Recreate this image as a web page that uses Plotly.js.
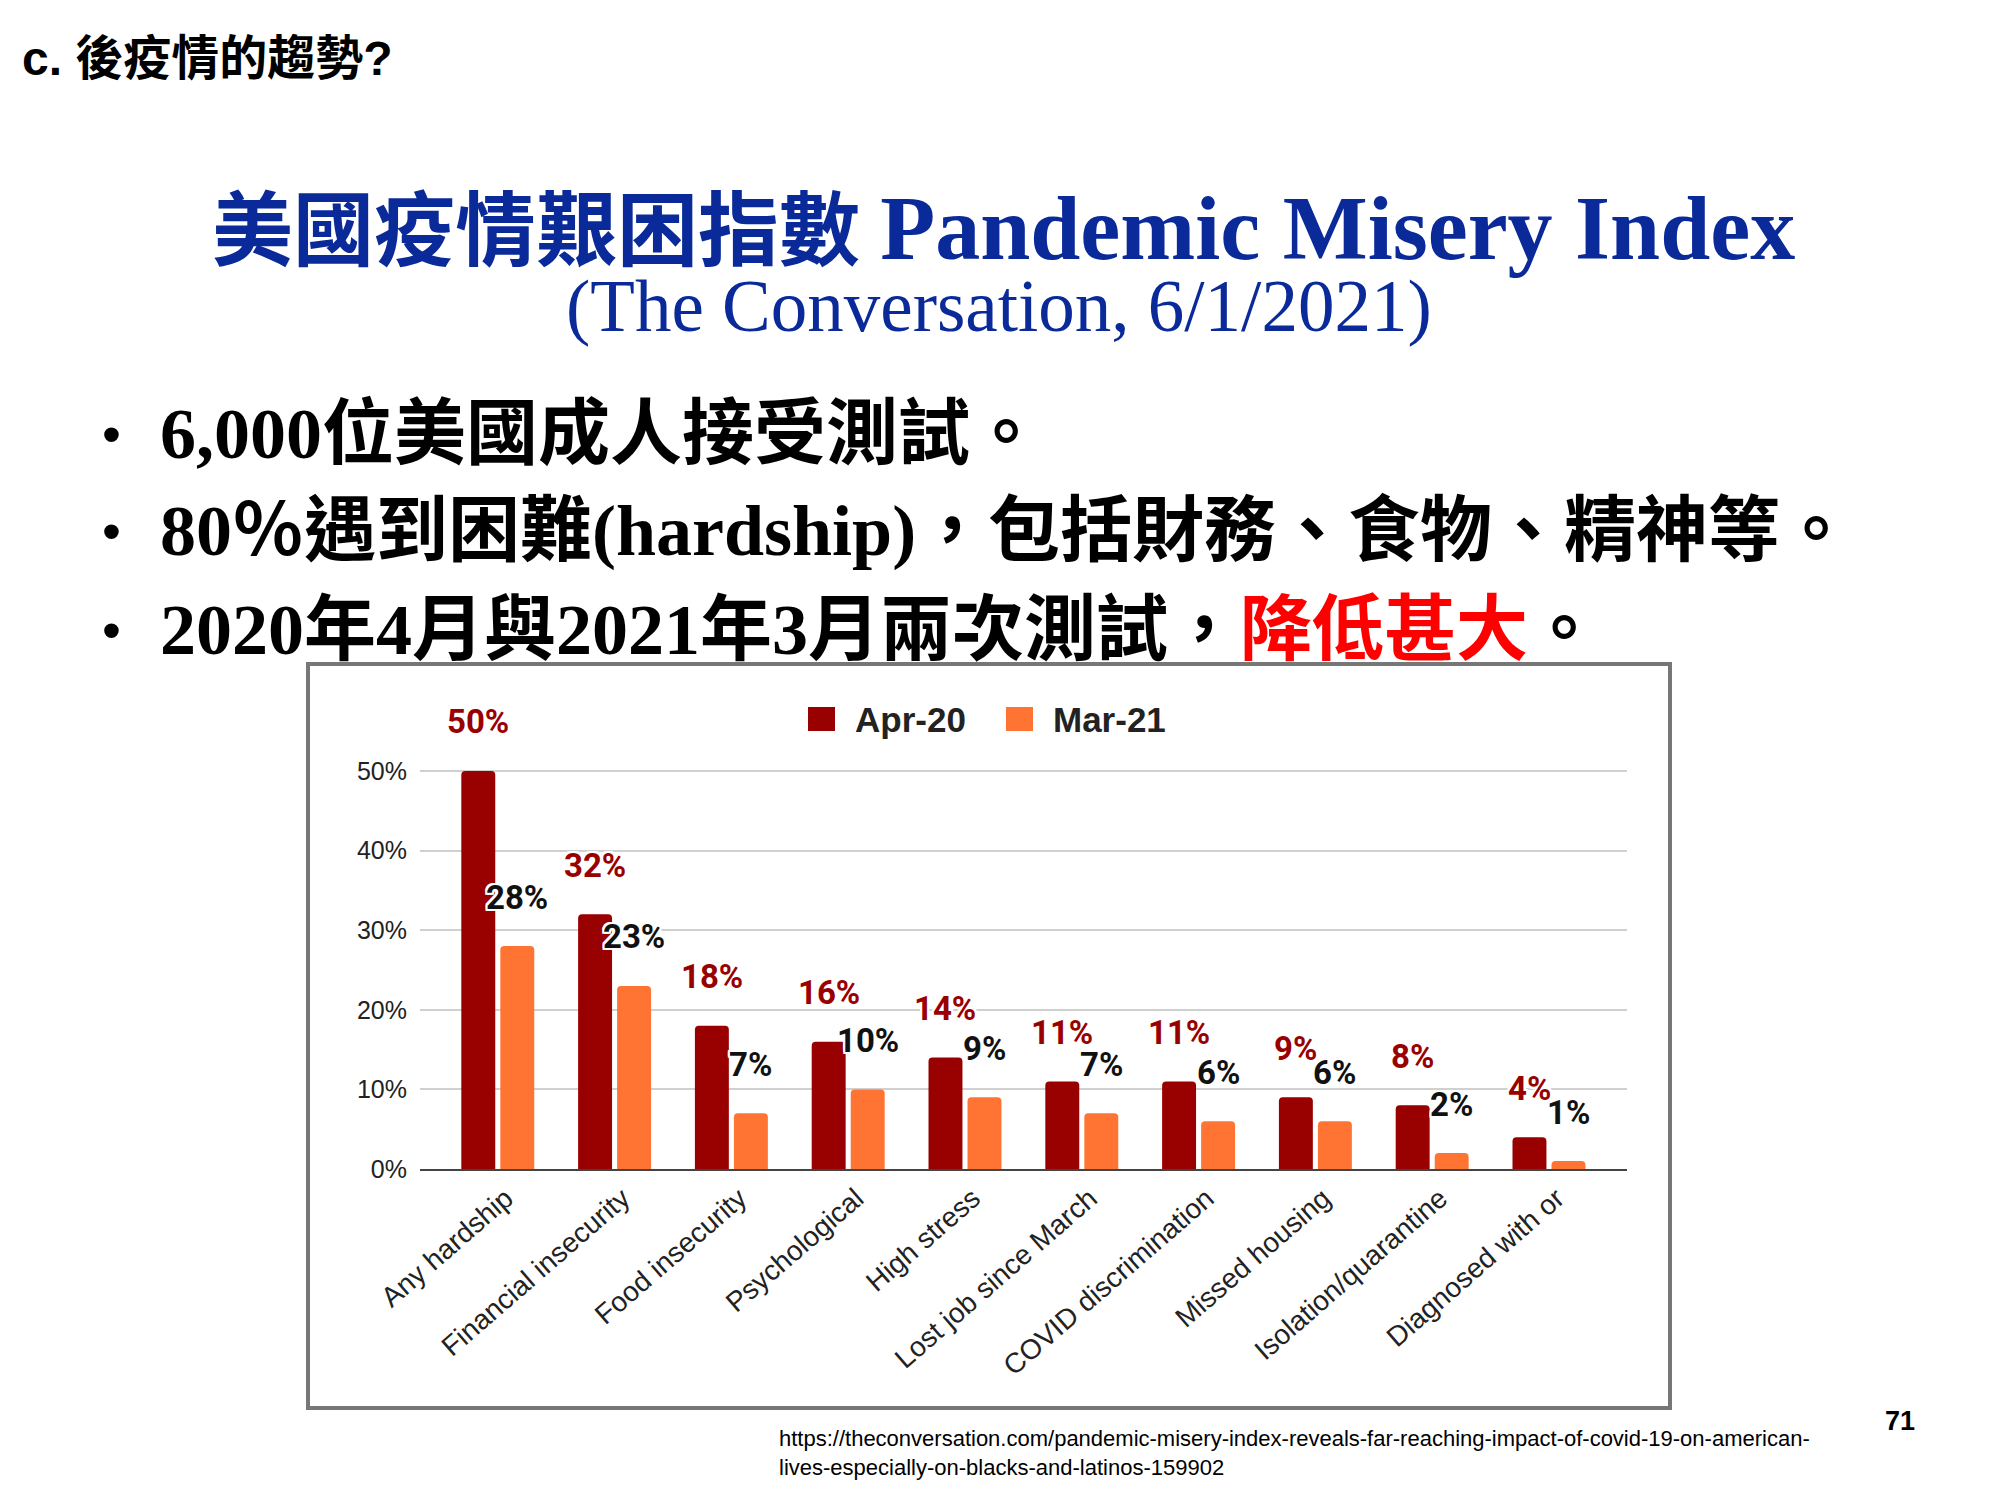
<!DOCTYPE html>
<html>
<head>
<meta charset="utf-8">
<script src="https://cdn.plot.ly/plotly-3.0.1.min.js"></script>
<style>html,body{margin:0;padding:0;background:#fff;}#chart{width:2000px;height:1500px;}</style>
</head>
<body>
<div id="chart"></div>
<script>
// ---- data ----
const categories = ['Any hardship','Financial insecurity','Food insecurity','Psychological','High stress','Lost job since March','COVID discrimination','Missed housing','Isolation/quarantine','Diagnosed with or'];
const apr20 = [50,32,18,16,14,11,11,9,8,4];
const mar21 = [28,23,7,10,9,7,6,6,2,1];
const seriesNames = ['Apr-20','Mar-21'];
const yTickVals = [0,10,20,30,40,50];
const yTickText = ['0%','10%','20%','30%','40%','50%'];

const slideTitle = 'c. 後疫情的趨勢?';
const mainTitleZh = '美國疫情艱困指數';
const mainTitleEn = 'Pandemic Misery Index';
const subTitle = '(The Conversation, 6/1/2021)';
const bullet1 = '6,000位美國成人接受測試。';
const bullet2 = '80％遇到困難(hardship)，包括財務、食物、精神等。';
const bullet3a = '2020年4月與2021年3月兩次測試，';
const bullet3b = '降低甚大';
const bullet3c = '。';
const sourceUrl1 = 'https://theconversation.com/pandemic-misery-index-reveals-far-reaching-impact-of-covid-19-on-american-';
const sourceUrl2 = 'lives-especially-on-blacks-and-latinos-159902';
const pageNo = '71';

// ---- style ----
const C_APR = '#990000';
const C_MAR = '#ff7433';
const NAVY = '#0a2a9a';
const SERIF = "'Liberation Serif', 'Noto Sans CJK TC', serif";
const SANS = "'Liberation Sans', Arial, sans-serif";
const LABEL = "Roboto, 'Liberation Sans', sans-serif";

// plot-area geometry in page pixels
const PL = 420, PR = 1627, PT = 767, PB = 1169;
const PW = PR - PL, PH = PB - PT;
const px = x => (x - PL) / PW;
const py = y => (PB - y) / PH;

const OFF = 19.5; // half a bar slot in px
const HALO = '2px 0 0 #fff, -2px 0 0 #fff, 0 2px 0 #fff, 0 -2px 0 #fff, 2px 2px 0 #fff, -2px -2px 0 #fff, 2px -2px 0 #fff, -2px 2px 0 #fff';

const traces = [
  {type:'bar', x:categories, y:apr20, name:seriesNames[0], marker:{color:C_APR, cornerradius:4}, showlegend:false, hoverinfo:'x+y+name'},
  {type:'bar', x:categories, y:mar21, name:seriesNames[1], marker:{color:C_MAR, cornerradius:4}, showlegend:false, hoverinfo:'x+y+name'}
];

const annotations = [];
categories.forEach((c,i)=>{
  annotations.push({xref:'x', yref:'y', x:c, y:apr20[i], xshift:-OFF, yshift:49, text:apr20[i]+'%', showarrow:false,
    xanchor:'center', yanchor:'middle', font:{family:LABEL, size:33, color:C_APR, weight:700, shadow:HALO}});
  annotations.push({xref:'x', yref:'y', x:c, y:mar21[i], xshift:OFF, yshift:49, text:mar21[i]+'%', showarrow:false,
    xanchor:'center', yanchor:'middle', font:{family:LABEL, size:33, color:'#111', weight:700, shadow:HALO}});
});

// legend text
annotations.push({xref:'paper', yref:'paper', x:px(853), y:py(719), xanchor:'left', yanchor:'middle', showarrow:false,
  text:'<b>'+seriesNames[0]+'</b>', font:{family:SANS, size:35, color:'#222'}});
annotations.push({xref:'paper', yref:'paper', x:px(1051), y:py(719), xanchor:'left', yanchor:'middle', showarrow:false,
  text:'<b>'+seriesNames[1]+'</b>', font:{family:SANS, size:35, color:'#222'}});

// slide texts
annotations.push({xref:'paper', yref:'paper', x:px(20), y:py(58), xanchor:'left', yanchor:'middle', showarrow:false,
  text:slideTitle, font:{family:"'Liberation Sans', 'Noto Sans CJK TC', sans-serif", size:48, color:'#000', weight:700}});
annotations.push({xref:'paper', yref:'paper', x:px(1003), y:py(228), xanchor:'center', yanchor:'middle', showarrow:false,
  text:'<b>'+mainTitleZh+' '+'<span style="font-size:90px">'+mainTitleEn+'</span></b>', font:{family:SERIF, size:81, color:NAVY}});
annotations.push({xref:'paper', yref:'paper', x:px(999), y:py(306), xanchor:'center', yanchor:'middle', showarrow:false,
  text:subTitle, font:{family:SERIF, size:73, color:NAVY}});

const bulletYs = [434, 531, 630];
const bulletTexts = ['<b>'+bullet1+'</b>', '<b>'+bullet2+'</b>',
  '<b>'+bullet3a+'<span style="color:#ff0000">'+bullet3b+'</span>'+bullet3c+'</b>'];
bulletYs.forEach((y,i)=>{
  annotations.push({xref:'paper', yref:'paper', x:px(100), y:py(y), xanchor:'left', yanchor:'middle', showarrow:false,
    text:'•', font:{family:SANS, size:54, color:'#000'}});
  annotations.push({xref:'paper', yref:'paper', x:px(158), y:py(y), xanchor:'left', yanchor:'middle', showarrow:false,
    text:bulletTexts[i], font:{family:SERIF, size:72, color:'#000'}});
});

annotations.push({xref:'paper', yref:'paper', x:px(777), y:py(1453), xanchor:'left', yanchor:'middle', showarrow:false, align:'left',
  text:sourceUrl1+'<br>'+sourceUrl2, font:{family:SANS, size:22, color:'#000'}});
annotations.push({xref:'paper', yref:'paper', x:px(1900), y:py(1421), xanchor:'center', yanchor:'middle', showarrow:false,
  text:'<b>'+pageNo+'</b>', font:{family:SANS, size:27, color:'#000'}});

const shapes = [
  {type:'rect', xref:'paper', yref:'paper', x0:px(308), x1:px(1670), y0:py(664), y1:py(1408), line:{color:'#777', width:4}, fillcolor:'rgba(0,0,0,0)', layer:'below'},
  {type:'rect', xref:'paper', yref:'paper', x0:px(808), x1:px(835), y0:py(707), y1:py(731), line:{width:0}, fillcolor:C_APR},
  {type:'rect', xref:'paper', yref:'paper', x0:px(1006), x1:px(1033), y0:py(707), y1:py(731), line:{width:0}, fillcolor:C_MAR}
];

const layout = {
  width:2000, height:1500,
  margin:{l:PL, r:2000-PR, t:PT, b:1500-PB, pad:0},
  paper_bgcolor:'#fff', plot_bgcolor:'#fff',
  barmode:'group', bargap:0.332, bargroupgap:0.13,
  showlegend:false,
  xaxis:{type:'category', range:[-0.666, 9.668], tickangle:-41, tickfont:{family:SANS, size:28, color:'#222'},
    ticklabelshift:8,
    showline:true, linecolor:'#444', linewidth:2, showgrid:false, ticks:'', automargin:false, fixedrange:true},
  yaxis:{range:[0,50.5], tickvals:yTickVals, ticktext:yTickText, tickfont:{family:SANS, size:25, color:'#222'},
    showgrid:true, gridcolor:'#d0d0d0', gridwidth:2, zeroline:false, ticks:'', ticklabelstandoff:12, automargin:false, fixedrange:true},
  annotations:annotations,
  shapes:shapes
};

Plotly.newPlot('chart', traces, layout, {displayModeBar:false, staticPlot:true});
</script>
</body>
</html>
